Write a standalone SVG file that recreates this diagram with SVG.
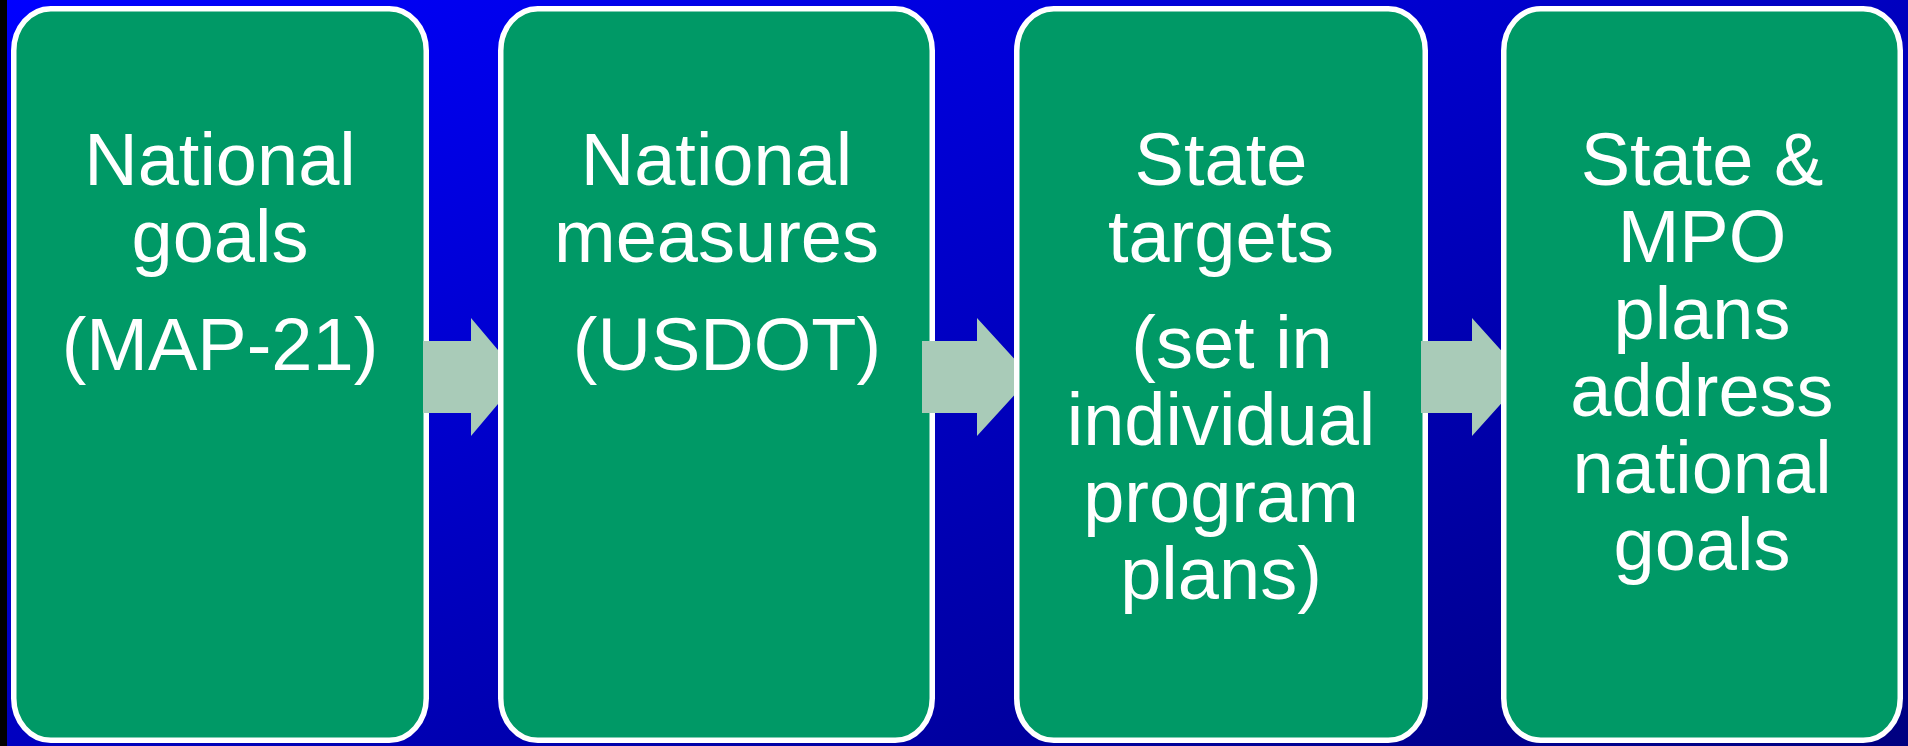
<svg xmlns="http://www.w3.org/2000/svg" width="1908" height="746" viewBox="0 0 1908 746">
<defs>
<linearGradient id="bg" x1="0" y1="0" x2="1" y2="1">
<stop offset="0" stop-color="#0000FF"/>
<stop offset="1" stop-color="#000080"/>
</linearGradient>
<style>
.box{fill:#009966;stroke:#FFFFFF;stroke-width:5.5}
.arrow{fill:#A9CBB8;stroke:none}
.t{font-family:"Liberation Sans",Arial,sans-serif;font-size:74px;fill:#FFFFFF;text-anchor:middle}
</style>
</defs>
<rect x="0" y="0" width="1908" height="746" fill="#000000"/>
<rect x="7" y="0" width="1901" height="746" fill="url(#bg)"/>
<g id="node1">
<rect class="box" x="13.75" y="8.75" width="412.5" height="731.5" rx="37" ry="42"/>
<text class="t" x="220" y="185">National</text>
<text class="t" x="220" y="262">goals</text>
<text class="t" x="220" y="370">(MAP-21)</text>
</g>
<g id="node2">
<rect class="box" x="500.75" y="8.75" width="431.5" height="731.5" rx="37" ry="42"/>
<text class="t" x="716.5" y="185">National</text>
<text class="t" x="716.5" y="262">measures</text>
<text class="t" x="727" y="370">(USDOT)</text>
</g>
<g id="node3">
<rect class="box" x="1016.75" y="8.75" width="408.5" height="731.5" rx="37" ry="42"/>
<text class="t" x="1221" y="185">State</text>
<text class="t" x="1221" y="262">targets</text>
<text class="t" x="1232" y="368">(set in</text>
<text class="t" x="1221" y="445">individual</text>
<text class="t" x="1221" y="522">program</text>
<text class="t" x="1221" y="599">plans)</text>
</g>
<g id="node4">
<rect class="box" x="1503.75" y="8.75" width="396.5" height="731.5" rx="37" ry="42"/>
<text class="t" x="1702" y="185">State &amp;</text>
<text class="t" x="1702" y="262">MPO</text>
<text class="t" x="1702" y="339">plans</text>
<text class="t" x="1702" y="416">address</text>
<text class="t" x="1702" y="493">national</text>
<text class="t" x="1702" y="570">goals</text>
</g>
<g id="connectors">
<polygon class="arrow" points="423,341 471,341 471,318 498,350 498,404 471,436 471,413 423,413"/>
<polygon class="arrow" points="922,341 977,341 977,318 1014,358.4 1014,395.6 977,436 977,413 922,413"/>
<polygon class="arrow" points="1421,341 1472,341 1472,318 1501,350.3 1501,403.7 1472,436 1472,413 1421,413"/>
</g>
</svg>
